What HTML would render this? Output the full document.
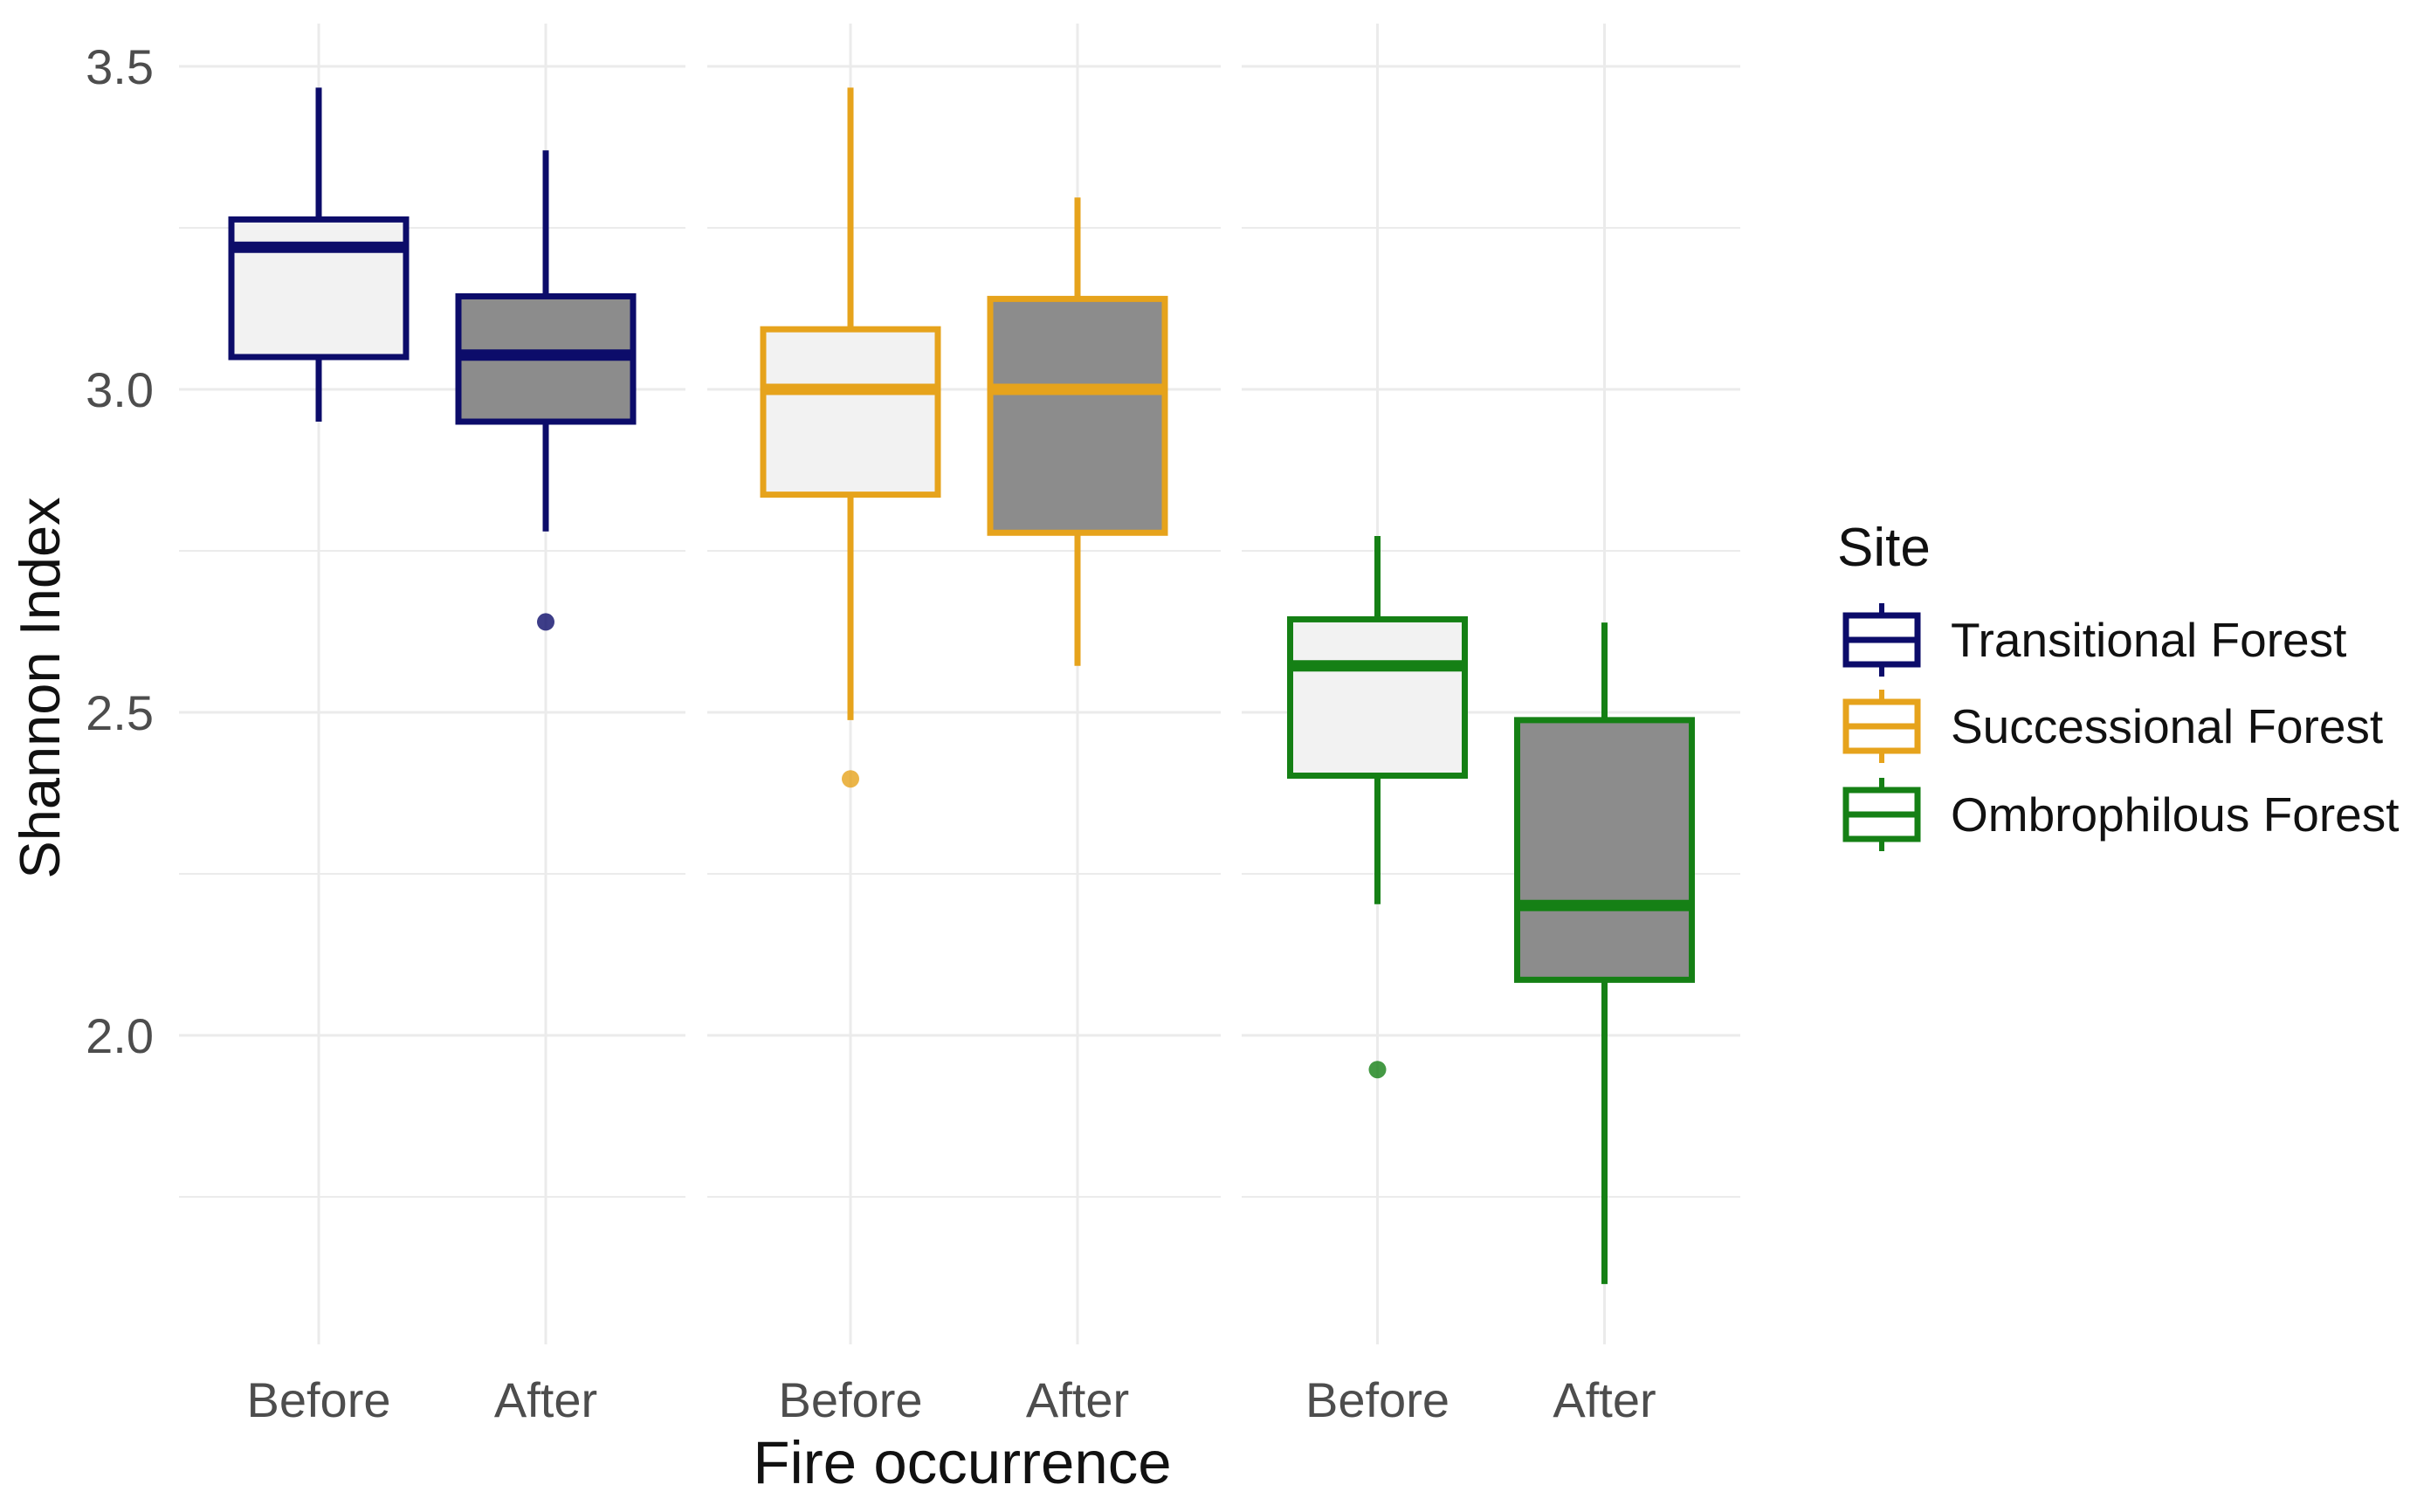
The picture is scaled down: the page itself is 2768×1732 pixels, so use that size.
<!DOCTYPE html>
<html><head><meta charset="utf-8"><style>
html,body{margin:0;padding:0;background:#fff;}
svg{display:block;font-family:"Liberation Sans",sans-serif;}
</style></head><body>
<svg id="chart" width="2768" height="1732" viewBox="0 0 2768 1732">
<g id="grid"></g>
<g id="boxes"></g>
<g id="axes"></g>
<text x="1102" y="1699" font-size="69" fill="#111" text-anchor="middle">Fire occurrence</text>
<text transform="translate(68,788) rotate(-90)" font-size="65" fill="#111" text-anchor="middle">Shannon Index</text>
<g id="legend">
<text x="2104" y="648" font-size="62" fill="#111">Site</text>
</g>
</svg>
<script>
const sites = ["Transitional Forest","Successional Forest","Ombrophilous Forest"];
const colors = ["#0c0c6a","#e6a31c","#158015"];
const periods = ["Before","After"];
const whiskerLow = [[2.95,2.78],[2.488,2.572],[2.203,1.615]];
const q1 = [[3.05,2.95],[2.837,2.778],[2.402,2.086]];
const median = [[3.22,3.053],[3.0,3.0],[2.572,2.201]];
const q3 = [[3.263,3.144],[3.093,3.14],[2.644,2.488]];
const whiskerHigh = [[3.467,3.37],[3.467,3.297],[2.773,2.639]];
const outliers = [[[],[2.64]],[[2.397],[]],[[1.947],[]]];
const yTicks = [2.0,2.5,3.0,3.5];
const yMinor = [1.75,2.25,2.75,3.25];

const NS="http://www.w3.org/2000/svg";
function mk(tag,attrs,parent){const e=document.createElementNS(NS,tag);for(const k in attrs)e.setAttribute(k,attrs[k]);parent.appendChild(e);return e;}
function y(v){return 446-(v-3.0)*740;}
const panels=[[205,785],[810,1398],[1422,1993]];
function xPos(s,p){const c=(panels[s][0]+panels[s][1])/2;return c+(p===0?-130:130);}
const grid=document.getElementById('grid'),boxes=document.getElementById('boxes'),axes=document.getElementById('axes'),legend=document.getElementById('legend');

panels.forEach((pn,s)=>{
  yTicks.concat(yMinor).forEach(t=>{
    const l=mk('line',{x1:pn[0],x2:pn[1],y1:y(t),y2:y(t),stroke:'#ebebeb','stroke-width':yTicks.includes(t)?3:2},grid);
    
    
  });
  periods.forEach((p,pi)=>{
    const l=mk('line',{x1:xPos(s,pi),x2:xPos(s,pi),y1:27,y2:1540,stroke:'#ebebeb','stroke-width':3},grid);
    
    
    const t=mk('text',{x:xPos(s,pi),y:1623,'font-size':56,fill:'#4d4d4d','text-anchor':'middle'},axes);
    t.textContent=p;
    
    
  });
});
yTicks.forEach(t=>{
  const e=mk('text',{x:176,y:y(t)+20,'font-size':56,fill:'#4d4d4d','text-anchor':'end'},axes);
  e.textContent=t.toFixed(1);
  
  
});

sites.forEach((s,si)=>{
  periods.forEach((p,pi)=>{
    const cx=xPos(si,pi),hw=100,col=colors[si];
    const g=mk('g',{},boxes);
    
    
    mk('line',{x1:cx,x2:cx,y1:y(whiskerHigh[si][pi]),y2:y(q3[si][pi]),stroke:col,'stroke-width':7},g);
    mk('line',{x1:cx,x2:cx,y1:y(q1[si][pi]),y2:y(whiskerLow[si][pi]),stroke:col,'stroke-width':7},g);
    mk('rect',{x:cx-hw,y:y(q3[si][pi]),width:2*hw,height:y(q1[si][pi])-y(q3[si][pi]),fill:pi===0?'#f2f2f2':'#8c8c8c',stroke:col,'stroke-width':7},g);
    mk('line',{x1:cx-hw,x2:cx+hw,y1:y(median[si][pi]),y2:y(median[si][pi]),stroke:col,'stroke-width':13},g);
    outliers[si][pi].forEach(o=>{
      const c=mk('circle',{cx:cx,cy:y(o),r:10,fill:col,opacity:0.8},g);
      
      
    });
  });
  const ly=[733,832,933][si];
  const k=mk('g',{},legend);
  
  
  mk('line',{x1:2155,x2:2155,y1:ly-42,y2:ly+42,stroke:colors[si],'stroke-width':6},k);
  mk('rect',{x:2114,y:ly-28,width:82,height:56,fill:'#fff',stroke:colors[si],'stroke-width':7},k);
  mk('line',{x1:2114,x2:2196,y1:ly,y2:ly,stroke:colors[si],'stroke-width':7},k);
  const t=mk('text',{x:2234,y:ly+19,'font-size':55,fill:'#111'},k);
  t.textContent=s;
});
</script>
</body></html>
